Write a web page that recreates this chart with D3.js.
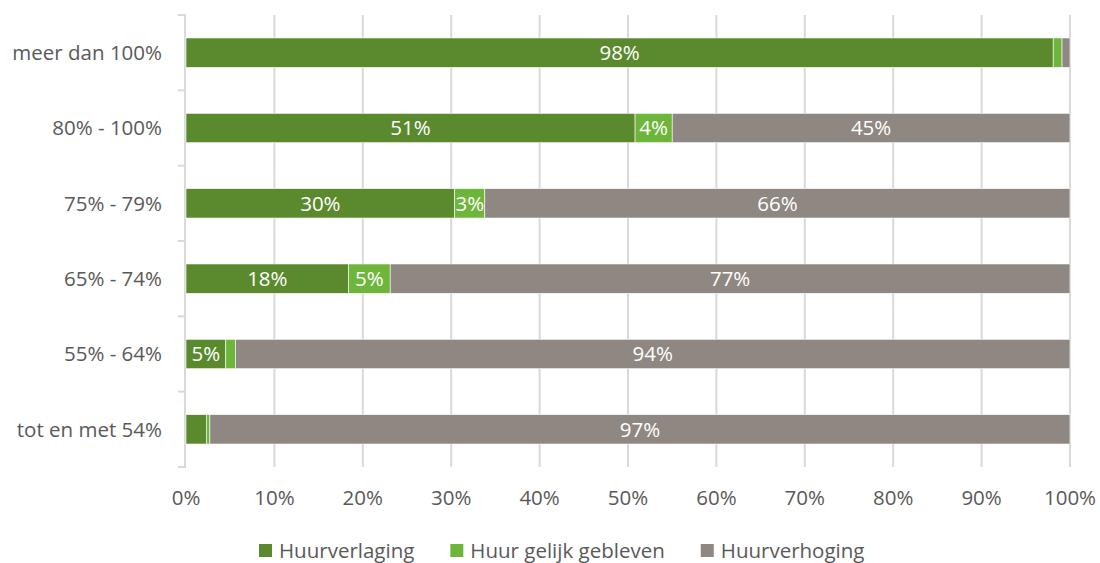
<!DOCTYPE html>
<html>
<head>
<meta charset="utf-8">
<script src="https://cdn.jsdelivr.net/npm/d3@7"></script>
<style>
  body { margin: 0; background: #fff; }
  text { font-family: "Open Sans", sans-serif; }
</style>
</head>
<body>
<svg id="chart"></svg>
<script>
// categories top to bottom
const categories = ["meer dan 100%", "80% - 100%", "75% - 79%", "65% - 74%", "55% - 64%", "tot en met 54%"];
const seriesNames = ["Huurverlaging", "Huur gelijk gebleven", "Huurverhoging"];
const huurverlaging = [98.1, 50.8, 30.4, 18.4, 4.5, 2.3];
const huurGelijk = [1.0, 4.2, 3.4, 4.7, 1.1, 0.4];
const huurverhoging = [0.9, 45.0, 66.2, 76.9, 94.4, 97.3];
const xTicks = [0, 10, 20, 30, 40, 50, 60, 70, 80, 90, 100];

const colors = ["#5b8a2e", "#6eb63b", "#8f8882"];
const fontSize = 20.5;

const width = 1100, height = 563;
const margin = { top: 15, right: 30, bottom: 96, left: 186 };

const svg = d3.select("#chart").attr("width", width).attr("height", height);

const rows = categories.map((c, i) => ({
  cat: c,
  [seriesNames[0]]: huurverlaging[i],
  [seriesNames[1]]: huurGelijk[i],
  [seriesNames[2]]: huurverhoging[i]
}));
const stacked = d3.stack().keys(seriesNames)(rows);

const x = d3.scaleLinear().domain([0, 100]).range([margin.left, 1070]);
const y = d3.scaleBand().domain(categories)
  .range([margin.top, height - margin.bottom])
  .paddingInner(0.61).paddingOuter(0.305);

// gridlines
svg.append("g").selectAll("line")
  .data(xTicks.filter(t => t > 0))
  .join("line")
  .attr("x1", d => x(d)).attr("x2", d => x(d))
  .attr("y1", margin.top).attr("y2", height - margin.bottom)
  .attr("stroke", "#d9d9d9").attr("stroke-width", 2);

// left axis line and category boundary ticks
const step = y.step();
const bounds = d3.range(categories.length + 1).map(i => margin.top + i * step);
svg.append("line")
  .attr("x1", x(0) - 1).attr("x2", x(0) - 1)
  .attr("y1", margin.top).attr("y2", height - margin.bottom)
  .attr("stroke", "#d9d9d9").attr("stroke-width", 2);
svg.append("g").selectAll("line")
  .data(bounds)
  .join("line")
  .attr("x1", x(0) - 8).attr("x2", x(0))
  .attr("y1", d => d).attr("y2", d => d)
  .attr("stroke", "#d9d9d9").attr("stroke-width", 2);

// bars
const layers = svg.append("g").selectAll("g")
  .data(stacked)
  .join("g")
  .attr("fill", (d, i) => colors[i]);

layers.selectAll("rect")
  .data(d => d)
  .join("rect")
  .attr("x", d => x(d[0]))
  .attr("width", d => x(d[1]) - x(d[0]))
  .attr("y", d => y(d.data.cat))
  .attr("height", y.bandwidth())
  .attr("stroke", "#fff")
  .attr("stroke-width", 0.6);

// value labels
layers.selectAll("text")
  .data(d => d.filter(v => v[1] - v[0] >= 3))
  .join("text")
  .attr("x", d => (x(d[0]) + x(d[1])) / 2)
  .attr("y", d => y(d.data.cat) + y.bandwidth() / 2)
  .attr("dy", "0.36em")
  .attr("text-anchor", "middle")
  .attr("fill", "#fff")
  .attr("font-size", fontSize)
  .text(d => Math.round(d[1] - d[0]) + "%");

// category labels
svg.append("g").selectAll("text")
  .data(categories)
  .join("text")
  .attr("x", 162)
  .attr("y", d => y(d) + y.bandwidth() / 2)
  .attr("dy", "0.36em")
  .attr("text-anchor", "end")
  .attr("fill", "#595959")
  .attr("font-size", fontSize)
  .text(d => d);

// x tick labels
svg.append("g").selectAll("text")
  .data(xTicks)
  .join("text")
  .attr("x", d => x(d))
  .attr("y", 498)
  .attr("dy", "0.36em")
  .attr("text-anchor", "middle")
  .attr("fill", "#595959")
  .attr("font-size", fontSize)
  .text(d => d + "%");

// legend, items laid out after one another
const legend = svg.append("g").attr("transform", "translate(259, 551)");
let lx = 0;
seriesNames.forEach((name, i) => {
  const item = legend.append("g").attr("transform", `translate(${lx}, 0)`);
  item.append("rect")
    .attr("x", 0).attr("y", -7).attr("width", 13).attr("height", 13)
    .attr("fill", colors[i]);
  const t = item.append("text")
    .attr("x", 20).attr("dy", "0.36em")
    .attr("fill", "#595959")
    .attr("font-size", fontSize)
    .text(name);
  lx += 20 + t.node().getComputedTextLength() + 36;
});
</script>
</body>
</html>
